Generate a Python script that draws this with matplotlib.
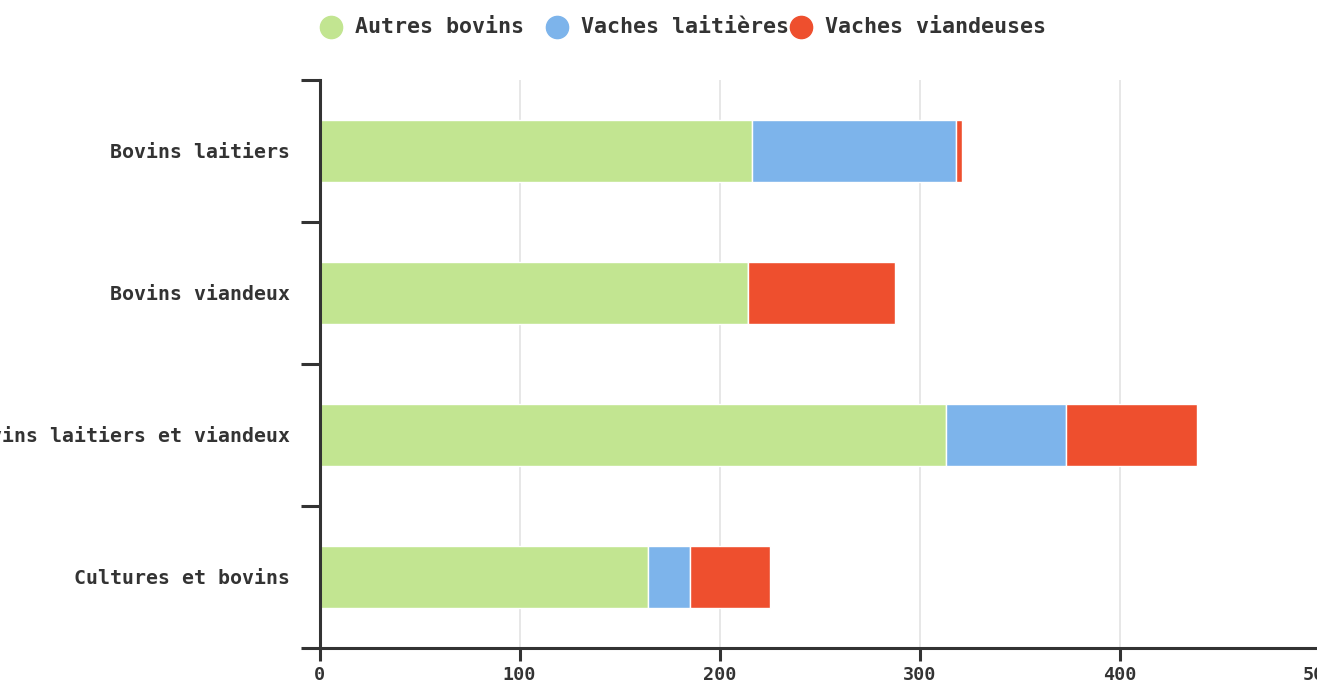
import matplotlib.pyplot as plt
from matplotlib.lines import Line2D
import numpy as np

# stacked herd composition per farm type
categories = ['Bovins laitiers', 'Bovins viandeux', 'Bovins laitiers et viandeux', 'Cultures et bovins']
series = ['Autres bovins', 'Vaches laitières', 'Vaches viandeuses']
autres_bovins = [216, 214, 313, 164]
vaches_laitieres = [102, 0, 60, 21]
vaches_viandeuses = [3.3, 73.5, 65.5, 40]
colors = ['#c2e591', '#7db4eb', '#ee4f2e']
x_ticks = [0, 100, 200, 300, 400, 500]

W, H = 1317, 681
fig = plt.figure(figsize=(W / 100, H / 100), dpi=100)
ax = fig.add_axes([319.5 / W, 1 - 648 / H, 1000 / W, 568 / H])

mono = 'DejaVu Sans Mono'
dark = '#333333'

y = np.arange(len(categories))
left = np.zeros(len(categories))
for vals, col in zip([autres_bovins, vaches_laitieres, vaches_viandeuses], colors):
    vals = np.array(vals, dtype=float)
    ax.barh(y, vals, left=left, height=0.44, color=col, edgecolor='white', linewidth=1, zorder=2)
    left += vals

ax.set_xlim(0, 500)
ax.set_ylim(len(categories) - 0.5, -0.5)
ax.set_axisbelow(True)
ax.xaxis.grid(True, color='#e3e3e3', linewidth=1.2)

for s in ['top', 'right']:
    ax.spines[s].set_visible(False)
for s in ['left', 'bottom']:
    ax.spines[s].set_linewidth(2.2)
    ax.spines[s].set_color(dark)

# category boundaries as ticks, names on minor ticks
ax.set_yticks(np.arange(-0.5, len(categories), 1.0))
ax.set_yticklabels([])
ax.set_yticks(y, minor=True)
ax.set_yticklabels(categories, minor=True, fontfamily=mono, fontweight='bold', fontsize=14.3, color=dark)
ax.tick_params(axis='y', which='major', length=13.7, width=2.2, color=dark)
ax.tick_params(axis='y', which='minor', length=0, pad=21)

ax.set_xticks(x_ticks)
ax.set_xticklabels([str(t) for t in x_ticks], fontfamily=mono, fontweight='bold', fontsize=13.2, color=dark)
ax.tick_params(axis='x', length=9.4, width=2.2, color=dark, pad=3.6)

# legend row across the top
legend_x = [331, 557, 801]
ly = 1 - 27 / H
for name, col, lx in zip(series, colors, legend_x):
    fig.add_artist(Line2D([lx / W], [ly], marker='o', markersize=16, color=col,
                          linestyle='none', transform=fig.transFigure))
    fig.text((lx + 24) / W, ly, name, fontfamily=mono, fontweight='bold', fontsize=15.6,
             color=dark, va='center', ha='left')

fig.savefig('out.png', dpi=100)
